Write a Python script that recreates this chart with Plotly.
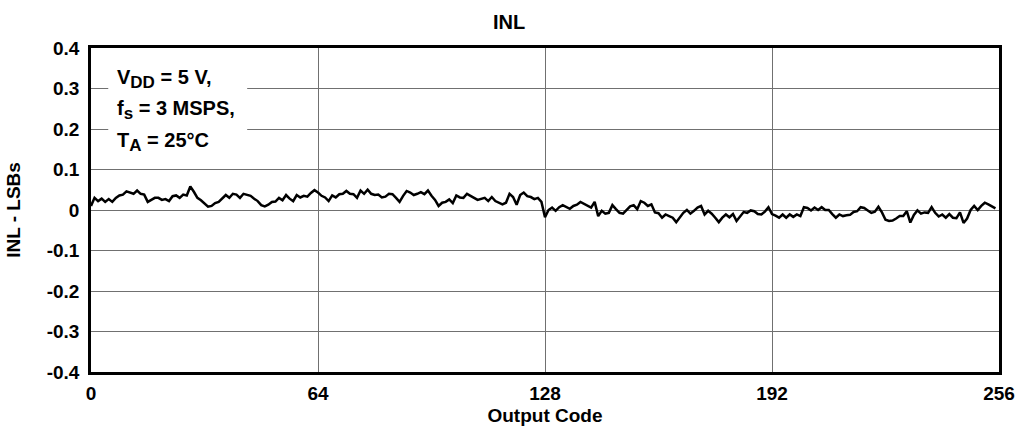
import plotly.graph_objects as go

# INL per output code (LSBs)
inl = [
    0.010, 0.030, 0.022, 0.028, 0.020, 0.027, 0.020, 0.030, 0.036, 0.038,
    0.046, 0.042, 0.040, 0.048, 0.040, 0.038, 0.020, 0.025, 0.030, 0.030,
    0.025, 0.027, 0.022, 0.034, 0.036, 0.030, 0.038, 0.036, 0.058, 0.045,
    0.030, 0.024, 0.017, 0.008, 0.010, 0.017, 0.020, 0.029, 0.037, 0.030,
    0.040, 0.038, 0.030, 0.040, 0.038, 0.035, 0.028, 0.022, 0.012, 0.009,
    0.013, 0.020, 0.021, 0.030, 0.024, 0.037, 0.028, 0.022, 0.037, 0.031,
    0.035, 0.033, 0.042, 0.049, 0.043, 0.035, 0.031, 0.022, 0.036, 0.031,
    0.039, 0.040, 0.047, 0.040, 0.039, 0.030, 0.048, 0.040, 0.050, 0.040,
    0.037, 0.038, 0.031, 0.033, 0.040, 0.039, 0.030, 0.020, 0.035, 0.047,
    0.043, 0.037, 0.040, 0.044, 0.039, 0.048, 0.035, 0.025, 0.010, 0.018,
    0.020, 0.026, 0.017, 0.036, 0.031, 0.030, 0.040, 0.034, 0.030, 0.025,
    0.028, 0.030, 0.022, 0.032, 0.022, 0.018, 0.014, 0.018, 0.040, 0.032,
    0.013, 0.037, 0.043, 0.034, 0.032, 0.027, 0.030, 0.020, -0.018, 0.000,
    0.006, -0.002, 0.007, 0.012, 0.007, 0.003, 0.010, 0.013, 0.020, 0.015,
    0.012, 0.006, 0.020, -0.015, -0.002, -0.009, -0.007, 0.012, 0.002, -0.007,
    -0.009, -0.001, 0.009, 0.012, 0.002, 0.022, 0.018, 0.010, 0.014, -0.006,
    -0.008, -0.019, -0.011, -0.015, -0.019, -0.030, -0.019, -0.007, 0.000, -0.009,
    -0.002, 0.006, 0.010, -0.011, -0.002, -0.009, -0.019, -0.030, -0.019, -0.011,
    -0.018, -0.010, -0.027, -0.015, -0.005, -0.007, -0.001, -0.003, -0.010, -0.011,
    -0.004, 0.007, -0.010, -0.014, -0.019, -0.011, -0.019, -0.011, -0.017, -0.011,
    -0.015, 0.007, 0.005, -0.001, 0.006, 0.000, 0.007, 0.000, 0.000, -0.010,
    -0.019, -0.011, -0.015, -0.013, -0.012, -0.005, -0.003, 0.007, 0.005, -0.001,
    -0.007, -0.004, 0.008, -0.006, -0.024, -0.027, -0.026, -0.021, -0.015, -0.015,
    -0.003, -0.031, -0.012, -0.001, -0.009, -0.006, -0.007, 0.007, -0.007, -0.016,
    -0.011, -0.019, -0.010, -0.019, -0.020, -0.006, -0.032, -0.021, 0.000, 0.010,
    0.000, 0.010, 0.018, 0.014, 0.010, 0.004,
]
codes = list(range(len(inl)))

x_ticks = [0, 64, 128, 192, 256]
x_labels = ["0", "64", "128", "192", "256"]
y_ticks = [0.4, 0.3, 0.2, 0.1, 0, -0.1, -0.2, -0.3, -0.4]
y_labels = ["0.4", "0.3", "0.2", "0.1", "0", "-0.1", "-0.2", "-0.3", "-0.4"]

# test conditions: (symbol, subscript, rest)
cond_sym = ["V", "f", "T"]
cond_sub = ["DD", "s", "A"]
cond_rest = [" = 5 V,", " = 3 MSPS,", " = 25°C"]

FONT = "Liberation Sans, Arial, sans-serif"

fig = go.Figure()
fig.add_trace(go.Scatter(
    x=codes, y=inl, mode="lines",
    line=dict(color="black", width=2.5),
    showlegend=False,
))

# white box behind the test conditions, hiding the gridlines
fig.add_shape(type="rect", xref="paper", yref="paper",
              x0=0.019, x1=0.172, y0=0.68, y1=0.97,
              fillcolor="white", line_width=0, layer="above")

row_y = [0.905, 0.81, 0.71]
for sym, sub, rest, yy in zip(cond_sym, cond_sub, cond_rest, row_y):
    txt = "<b>%s<sub><span style='font-size:17px'>%s</span></sub>%s</b>" % (sym, sub, rest)
    fig.add_annotation(text=txt, xref="paper", yref="paper",
                       x=0.026, y=yy, xanchor="left", yanchor="middle",
                       showarrow=False, font=dict(size=20, color="black"))

axis_common = dict(
    showline=True, linecolor="black", linewidth=2.5, mirror=True,
    showgrid=True, gridcolor="#707070", gridwidth=1,
    zeroline=False, ticks="", automargin=False,
    tickfont=dict(size=19, color="black", family=FONT, weight="bold"),
)

fig.update_xaxes(range=[0, 256], tickvals=x_ticks, ticktext=x_labels,
                 ticklabelstandoff=2,
                 title=dict(text="<b>Output Code</b>", font=dict(size=19, color="black"), standoff=7),
                 **axis_common)
fig.update_yaxes(range=[-0.4, 0.4], tickvals=y_ticks, ticktext=y_labels,
                 ticklabelstandoff=5,
                 title=dict(text="<b>INL - LSBs</b>", font=dict(size=19, color="black"), standoff=22),
                 **axis_common)

fig.update_layout(
    width=1018, height=430,
    margin=dict(l=91, r=19, t=48, b=58),
    paper_bgcolor="white", plot_bgcolor="white",
    font=dict(family=FONT, color="black"),
    title=dict(text="<b>INL</b>", x=0.5, xref="container", xanchor="center",
               y=0.95, yanchor="middle", font=dict(size=20, color="black")),
)

# drop the page's default body margin so the figure sits at the window origin
fig.write_html("out.html", config={"displayModeBar": False},
               post_script="document.body.style.margin='0';")
